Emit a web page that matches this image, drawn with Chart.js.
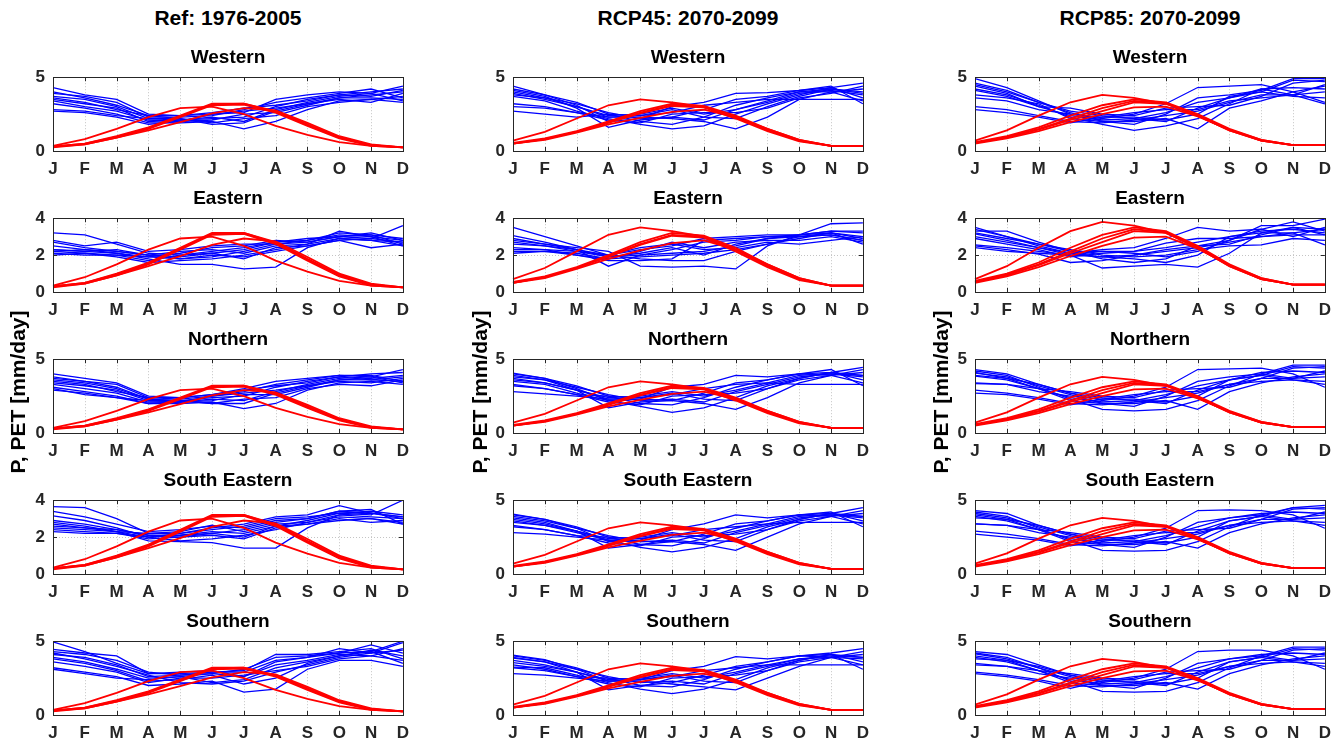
<!DOCTYPE html>
<html>
<head>
<meta charset="utf-8">
<script src="https://cdn.jsdelivr.net/npm/chart.js@4.4.0/dist/chart.umd.min.js"></script>
<style>
body { margin: 0; background: #fff; width: 1344px; height: 748px; position: relative; overflow: hidden; font-family: "Liberation Sans", Arial, sans-serif; }
canvas { position: absolute; }
.t { position: absolute; font-weight: bold; color: #000; text-align: center; white-space: nowrap; }
</style>
</head>
<body>
<script>
const months = ['J', 'F', 'M', 'A', 'M', 'J', 'J', 'A', 'S', 'O', 'N', 'D'];
const columnTitles = ['Ref: 1976-2005', 'RCP45: 2070-2099', 'RCP85: 2070-2099'];
const regions = ['Western', 'Eastern', 'Northern', 'South Eastern', 'Southern'];
const yLabel = 'P, PET [mm/day]';
// y-axis max per column, per region
const yMaxRef = [5, 4, 5, 4, 5];
const yMax45 = [5, 4, 5, 5, 5];
const yMax85 = [5, 4, 5, 5, 5];

// PET (red) curves per period
const petRef = [
  [0.35, 0.8, 1.5, 2.3, 2.9, 3.0, 2.5, 1.7, 1.1, 0.6, 0.35, 0.25],
  [0.3, 0.5, 1.0, 1.6, 2.4, 3.2, 3.2, 2.7, 1.8, 0.95, 0.4, 0.25],
  [0.3, 0.5, 0.95, 1.55, 2.35, 3.15, 3.2, 2.65, 1.75, 0.9, 0.4, 0.25],
  [0.3, 0.45, 0.9, 1.5, 2.3, 3.1, 3.15, 2.6, 1.7, 0.85, 0.35, 0.25],
  [0.25, 0.45, 0.9, 1.4, 1.95, 2.55, 2.9, 2.75, 1.9, 1.0, 0.45, 0.25]
];
const pet45 = [
  [0.7, 1.3, 2.2, 3.1, 3.5, 3.3, 3.0, 2.3, 1.4, 0.7, 0.35, 0.35],
  [0.55, 0.85, 1.35, 2.0, 2.7, 3.2, 3.05, 2.4, 1.5, 0.75, 0.35, 0.35],
  [0.5, 0.8, 1.3, 1.95, 2.6, 3.1, 3.0, 2.3, 1.45, 0.7, 0.35, 0.35],
  [0.5, 0.8, 1.3, 1.9, 2.55, 3.05, 2.95, 2.2, 1.35, 0.65, 0.35, 0.35],
  [0.5, 0.75, 1.25, 1.8, 2.25, 2.65, 2.8, 2.3, 1.5, 0.75, 0.35, 0.35]
];
const pet85 = [
  [0.7, 1.4, 2.4, 3.3, 3.8, 3.6, 3.2, 2.4, 1.4, 0.7, 0.4, 0.4],
  [0.6, 1.0, 1.6, 2.4, 3.1, 3.5, 3.3, 2.5, 1.5, 0.75, 0.4, 0.4],
  [0.55, 0.95, 1.5, 2.2, 2.9, 3.4, 3.25, 2.45, 1.45, 0.7, 0.4, 0.4],
  [0.55, 0.9, 1.45, 2.1, 2.7, 3.3, 3.2, 2.4, 1.4, 0.7, 0.4, 0.4],
  [0.5, 0.85, 1.35, 1.95, 2.5, 2.95, 3.0, 2.35, 1.45, 0.75, 0.4, 0.4]
];

// P (blue) curves, reference period
const pRefWestern = [
  [4.3, 3.8, 3.5, 2.5, 2.4, 2.5, 2.6, 3.5, 3.8, 4.0, 3.9, 4.4],
  [3.9, 3.7, 3.3, 2.3, 2.3, 2.4, 2.8, 3.3, 3.6, 3.9, 4.2, 3.6],
  [3.7, 3.5, 3.0, 2.2, 2.1, 2.2, 2.3, 3.0, 3.5, 3.8, 3.7, 4.1],
  [3.5, 3.2, 2.9, 2.0, 2.1, 2.3, 2.0, 2.8, 3.3, 3.7, 3.9, 3.4],
  [3.4, 3.0, 2.7, 2.1, 2.0, 2.1, 2.5, 2.6, 3.1, 3.6, 3.8, 4.0],
  [3.2, 2.9, 2.5, 1.9, 1.9, 2.0, 1.5, 2.0, 2.8, 3.4, 3.5, 3.3],
  [2.8, 2.7, 2.4, 2.2, 2.2, 1.9, 2.2, 2.4, 3.0, 3.3, 3.5, 3.7],
  [2.7, 2.6, 2.3, 1.8, 2.0, 2.5, 2.7, 2.9, 3.2, 3.5, 3.3, 3.9],
  [3.6, 3.3, 2.8, 2.4, 2.4, 2.6, 2.9, 3.1, 3.4, 3.8, 4.0, 4.2],
  [4.0, 3.6, 3.1, 2.4, 2.2, 1.8, 1.9, 2.7, 3.2, 3.6, 3.6, 3.5]
];
const pRefEastern = [
  [3.2, 3.1, 2.6, 2.1, 2.0, 2.2, 2.4, 2.7, 2.8, 3.1, 3.0, 2.8],
  [2.8, 2.5, 2.7, 2.2, 2.3, 2.5, 2.6, 2.6, 2.7, 3.0, 3.1, 2.6],
  [2.7, 2.4, 2.2, 2.0, 2.2, 2.3, 2.1, 2.5, 2.6, 3.3, 3.0, 2.5],
  [2.3, 2.2, 2.1, 1.8, 1.5, 1.5, 1.25, 1.35, 2.4, 2.9, 2.8, 2.7],
  [2.2, 2.1, 2.0, 1.9, 1.8, 1.9, 2.2, 2.6, 2.8, 3.2, 3.1, 2.9],
  [2.1, 2.0, 2.0, 1.7, 2.0, 2.1, 1.8, 2.4, 2.5, 2.8, 2.4, 2.6],
  [2.3, 2.2, 2.3, 2.0, 1.9, 2.1, 2.3, 2.7, 2.9, 3.0, 2.9, 3.6],
  [2.0, 2.1, 1.9, 1.6, 1.7, 1.8, 2.0, 2.3, 2.6, 2.9, 2.8, 2.5],
  [2.5, 2.3, 2.1, 1.9, 2.1, 2.4, 2.5, 2.8, 2.7, 3.0, 3.2, 2.8],
  [2.2, 2.3, 2.2, 2.0, 1.8, 2.0, 1.9, 2.2, 2.5, 2.8, 2.9, 2.7]
];
const pRefNorthern = [
  [4.0, 3.7, 3.4, 2.5, 2.4, 2.6, 3.0, 3.5, 3.7, 3.9, 3.8, 4.3],
  [3.8, 3.5, 3.3, 2.4, 2.3, 2.5, 2.8, 3.3, 3.6, 3.9, 3.9, 3.5],
  [3.6, 3.4, 3.0, 2.3, 2.2, 2.4, 2.5, 3.1, 3.5, 3.8, 3.6, 3.8],
  [3.4, 3.2, 2.9, 2.2, 2.1, 2.3, 2.2, 2.8, 3.3, 3.7, 3.8, 3.4],
  [3.3, 3.0, 2.7, 2.1, 2.1, 2.2, 2.6, 2.6, 3.1, 3.6, 3.7, 3.9],
  [3.1, 2.8, 2.5, 2.0, 2.0, 2.1, 1.65, 2.0, 2.9, 3.4, 3.5, 3.3],
  [2.9, 2.7, 2.4, 2.2, 2.2, 2.0, 2.3, 2.4, 3.0, 3.3, 3.2, 3.6],
  [3.0, 2.6, 2.4, 2.0, 2.1, 2.5, 2.7, 2.9, 3.2, 3.5, 3.4, 3.7],
  [3.5, 3.3, 2.8, 2.4, 2.4, 2.6, 2.9, 3.2, 3.4, 3.8, 4.0, 4.1],
  [3.7, 3.5, 3.1, 2.3, 2.2, 2.0, 2.0, 2.7, 3.2, 3.6, 3.6, 3.5]
];
const pRefSouthEastern = [
  [3.65, 3.6, 3.0, 2.2, 2.2, 2.5, 2.7, 3.1, 3.2, 3.7, 3.3, 3.1],
  [3.4, 3.1, 2.7, 2.3, 2.4, 2.6, 2.5, 2.9, 3.0, 3.4, 3.5, 2.7],
  [3.15, 2.9, 2.5, 2.0, 2.1, 2.3, 2.2, 2.6, 2.9, 3.3, 3.4, 3.2],
  [2.8, 2.6, 2.3, 1.8, 1.75, 1.7, 1.4, 1.4, 2.5, 3.2, 3.1, 3.0],
  [2.6, 2.5, 2.4, 2.1, 2.0, 2.2, 2.4, 2.8, 3.0, 3.4, 3.3, 3.1],
  [2.4, 2.3, 2.2, 1.9, 2.0, 2.1, 1.9, 2.5, 2.7, 3.0, 2.8, 2.9],
  [2.3, 2.2, 2.2, 2.0, 2.2, 2.4, 2.6, 3.0, 3.1, 3.3, 3.2, 4.0],
  [2.7, 2.5, 2.3, 2.0, 1.8, 1.9, 2.1, 2.4, 2.8, 3.1, 3.0, 2.8],
  [2.5, 2.4, 2.3, 2.2, 2.3, 2.65, 2.3, 2.7, 2.8, 3.2, 3.3, 3.0],
  [2.9, 2.7, 2.4, 2.1, 2.1, 2.2, 2.0, 2.6, 2.7, 2.9, 3.0, 2.7]
];
const pRefSouthern = [
  [4.95, 4.3, 3.5, 2.8, 2.8, 2.9, 3.0, 4.1, 4.1, 4.3, 4.5, 3.8],
  [4.45, 4.2, 4.0, 2.8, 2.9, 3.0, 2.6, 3.6, 3.9, 4.5, 4.2, 4.9],
  [4.1, 3.9, 3.4, 2.6, 2.7, 2.9, 2.9, 3.7, 3.9, 4.2, 4.75, 4.2],
  [3.8, 3.5, 3.0, 2.3, 2.4, 2.7, 2.1, 2.5, 3.5, 4.0, 4.3, 3.5],
  [3.6, 3.3, 2.9, 2.2, 2.5, 2.5, 2.7, 3.0, 3.3, 3.8, 4.0, 4.5],
  [3.2, 2.9, 2.6, 2.0, 2.1, 2.3, 1.55, 1.75, 3.1, 3.7, 3.7, 3.3],
  [3.1, 2.8, 2.5, 2.4, 2.6, 2.2, 2.4, 3.2, 3.6, 4.0, 4.4, 4.0],
  [4.2, 3.8, 3.3, 2.7, 2.2, 2.1, 2.3, 2.9, 3.4, 3.9, 4.2, 4.4],
  [3.9, 3.6, 3.1, 2.5, 2.6, 2.8, 2.6, 3.4, 3.7, 4.1, 4.0, 3.7],
  [4.3, 4.1, 3.7, 2.9, 2.7, 2.8, 3.1, 3.9, 4.0, 4.2, 4.3, 5.0]
];

// P (blue) curves, RCP45
const p45Western = [
  [4.4, 3.8, 3.1, 2.0, 2.2, 3.0, 3.3, 3.9, 3.95, 4.1, 4.3, 4.6],
  [4.1, 3.7, 2.9, 1.6, 2.1, 2.3, 2.8, 3.5, 3.7, 4.1, 4.4, 3.2],
  [3.9, 3.5, 3.0, 2.4, 2.5, 2.9, 2.5, 2.8, 3.4, 4.0, 4.2, 4.0],
  [3.7, 3.4, 2.7, 2.2, 1.8, 1.5, 1.7, 2.5, 3.2, 3.8, 4.3, 3.6],
  [3.0, 2.9, 2.6, 2.3, 2.3, 2.2, 2.0, 1.5, 2.3, 3.5, 4.0, 3.4],
  [2.7, 2.5, 2.3, 2.5, 2.4, 2.6, 3.1, 3.3, 3.5, 3.5, 3.5, 3.5],
  [3.8, 3.6, 3.2, 2.6, 2.2, 2.3, 2.1, 2.8, 3.3, 3.9, 4.1, 3.8],
  [4.2, 3.8, 3.3, 2.5, 2.0, 1.8, 2.3, 3.1, 3.6, 4.0, 4.0, 4.2],
  [3.2, 3.0, 2.6, 2.1, 1.9, 2.5, 2.6, 2.6, 2.9, 3.6, 3.9, 4.4],
  [4.0, 3.6, 3.0, 2.3, 2.4, 2.8, 2.3, 2.2, 3.0, 3.7, 4.2, 3.9]
];
const p45Eastern = [
  [3.5, 3.0, 2.5, 2.0, 2.3, 2.5, 2.9, 3.0, 3.1, 3.1, 3.7, 3.75],
  [3.05, 2.7, 2.3, 1.4, 2.0, 2.3, 2.7, 2.8, 3.0, 3.0, 3.2, 2.6],
  [2.8, 2.6, 2.4, 2.2, 1.4, 1.35, 1.4, 1.25, 2.5, 3.1, 3.3, 3.3],
  [2.6, 2.5, 2.3, 1.9, 2.1, 2.4, 2.0, 2.6, 2.9, 3.0, 3.1, 2.8],
  [2.3, 2.3, 2.2, 2.0, 1.8, 1.7, 1.7, 2.2, 2.6, 2.9, 3.2, 3.0],
  [2.1, 2.2, 2.1, 1.8, 2.2, 2.7, 2.4, 2.7, 2.8, 2.8, 3.0, 2.7],
  [2.7, 2.5, 2.2, 1.9, 2.0, 2.1, 2.2, 2.5, 2.9, 3.1, 3.2, 2.9],
  [2.4, 2.3, 2.0, 1.7, 1.7, 1.8, 2.8, 2.9, 3.0, 3.1, 3.3, 3.2],
  [2.9, 2.6, 2.3, 2.0, 2.4, 2.6, 2.3, 2.4, 2.7, 2.6, 2.8, 3.0],
  [2.2, 2.2, 2.0, 1.8, 1.9, 2.0, 2.1, 2.3, 2.6, 3.0, 3.1, 2.8]
];
const p45Northern = [
  [4.05, 3.7, 3.0, 2.2, 2.3, 3.1, 3.3, 3.9, 3.8, 4.0, 4.1, 4.45],
  [3.8, 3.6, 2.9, 1.7, 2.1, 2.2, 2.7, 3.4, 3.6, 4.0, 4.3, 3.2],
  [3.6, 3.4, 2.9, 2.4, 2.5, 2.8, 2.5, 2.9, 3.4, 3.9, 4.0, 3.9],
  [3.5, 3.3, 2.7, 2.2, 1.8, 1.4, 1.7, 2.4, 3.2, 3.7, 4.1, 3.6],
  [2.8, 2.65, 2.5, 2.3, 2.3, 2.2, 2.0, 1.6, 2.4, 3.4, 3.9, 3.4],
  [3.3, 3.0, 2.6, 2.5, 2.4, 2.6, 3.0, 3.3, 3.4, 3.3, 3.3, 3.3],
  [3.9, 3.6, 3.1, 2.6, 2.2, 2.3, 2.1, 2.8, 3.3, 3.8, 4.0, 3.8],
  [4.0, 3.7, 3.2, 2.5, 2.0, 1.9, 2.4, 3.1, 3.6, 4.0, 3.9, 4.1],
  [3.2, 3.0, 2.6, 2.1, 1.9, 2.5, 2.6, 2.7, 3.0, 3.6, 3.9, 4.3],
  [3.7, 3.4, 2.9, 2.3, 2.4, 2.7, 2.3, 2.2, 3.0, 3.7, 4.1, 3.9]
];
const p45SouthEastern = [
  [4.05, 3.7, 3.1, 2.2, 2.3, 3.0, 3.4, 4.0, 3.8, 4.0, 4.1, 4.5],
  [3.8, 3.5, 2.9, 1.75, 2.0, 2.2, 2.7, 3.4, 3.6, 4.0, 4.2, 3.2],
  [3.6, 3.3, 2.9, 2.4, 2.5, 2.8, 2.5, 2.9, 3.4, 3.9, 4.0, 3.9],
  [3.5, 3.3, 2.8, 2.3, 1.8, 1.5, 1.8, 2.4, 3.2, 3.7, 4.1, 3.6],
  [2.8, 2.7, 2.5, 2.3, 2.2, 2.2, 2.0, 1.6, 2.5, 3.4, 3.9, 3.4],
  [3.3, 3.0, 2.6, 2.5, 2.4, 2.6, 3.0, 3.2, 3.4, 3.5, 3.5, 3.5],
  [3.9, 3.6, 3.1, 2.6, 2.2, 2.3, 2.1, 2.8, 3.3, 3.8, 4.0, 3.8],
  [4.0, 3.7, 3.2, 2.5, 2.0, 1.9, 2.4, 3.1, 3.6, 4.0, 3.9, 4.1],
  [3.2, 3.0, 2.6, 2.1, 1.9, 2.5, 2.6, 2.7, 3.0, 3.6, 3.9, 4.3],
  [3.7, 3.4, 2.9, 2.3, 2.4, 2.7, 2.3, 2.2, 3.0, 3.7, 4.1, 3.9]
];
const p45Southern = [
  [4.05, 3.75, 3.1, 2.3, 2.4, 3.0, 3.3, 3.95, 3.8, 4.0, 4.2, 4.5],
  [3.85, 3.6, 2.9, 1.7, 2.0, 2.2, 2.7, 3.3, 3.6, 4.0, 4.1, 3.1],
  [3.55, 3.3, 2.9, 2.4, 2.5, 2.8, 2.5, 2.9, 3.4, 3.8, 4.0, 3.9],
  [3.25, 3.2, 2.7, 2.2, 1.75, 1.45, 1.75, 2.4, 3.2, 3.7, 4.1, 3.6],
  [2.8, 2.7, 2.5, 2.3, 2.3, 2.1, 1.9, 1.7, 2.5, 3.3, 3.9, 3.4],
  [3.4, 3.1, 2.6, 2.5, 2.4, 2.6, 3.0, 3.2, 3.4, 3.4, 3.4, 3.4],
  [3.9, 3.6, 3.1, 2.6, 2.2, 2.3, 2.1, 2.8, 3.3, 3.8, 3.9, 3.8],
  [4.0, 3.7, 3.2, 2.5, 2.0, 1.9, 2.4, 3.1, 3.6, 4.0, 3.9, 4.1],
  [3.2, 3.0, 2.6, 2.1, 1.9, 2.5, 2.6, 2.7, 3.0, 3.6, 3.9, 4.3],
  [3.7, 3.4, 2.9, 2.3, 2.4, 2.7, 2.3, 2.2, 3.0, 3.7, 4.1, 3.9]
];

// P (blue) curves, RCP85
const p85Western = [
  [4.9, 4.3, 3.4, 2.5, 2.2, 2.5, 3.2, 4.3, 4.4, 4.5, 4.0, 3.3],
  [4.6, 4.1, 3.3, 2.6, 2.0, 1.8, 2.5, 3.6, 3.8, 4.1, 4.9, 4.9],
  [4.4, 3.9, 3.0, 2.4, 2.1, 2.2, 2.0, 2.9, 3.6, 4.0, 4.8, 4.7],
  [4.2, 3.8, 3.1, 2.3, 1.8, 1.4, 1.7, 2.2, 3.2, 4.2, 3.8, 4.5],
  [3.8, 3.6, 3.2, 2.2, 2.0, 2.0, 2.2, 1.5, 2.9, 3.4, 4.0, 4.4],
  [3.0, 2.8, 2.4, 2.0, 1.9, 2.1, 2.4, 2.7, 3.3, 3.8, 3.8, 4.0],
  [2.8, 2.6, 2.3, 1.9, 2.3, 2.6, 2.8, 2.8, 3.4, 3.6, 3.8, 3.2],
  [4.5, 4.0, 3.3, 2.7, 2.4, 2.2, 2.6, 3.3, 3.6, 4.2, 4.3, 4.2],
  [3.6, 3.4, 2.8, 2.5, 2.3, 2.3, 2.1, 2.5, 3.7, 4.0, 3.7, 3.6],
  [4.1, 3.7, 3.0, 2.9, 2.5, 2.4, 2.9, 3.0, 3.1, 3.7, 4.6, 4.8]
];
const p85Eastern = [
  [3.5, 3.0, 2.5, 2.1, 2.3, 2.4, 2.9, 3.5, 3.3, 3.4, 3.8, 3.3],
  [3.3, 3.3, 2.7, 2.2, 1.8, 1.6, 1.8, 2.5, 2.8, 3.6, 3.6, 3.95],
  [3.15, 2.8, 2.4, 2.0, 1.3, 1.4, 1.5, 1.35, 2.1, 3.2, 3.5, 3.4],
  [2.9, 2.6, 2.3, 1.9, 2.1, 2.2, 2.4, 2.7, 3.0, 3.2, 3.2, 2.55],
  [2.55, 2.4, 2.2, 2.0, 1.9, 1.8, 1.6, 2.0, 3.0, 3.3, 3.4, 3.2],
  [2.4, 2.2, 2.1, 2.0, 2.2, 2.2, 2.65, 2.9, 2.9, 3.0, 3.1, 3.1],
  [3.4, 3.0, 2.6, 2.3, 2.0, 1.9, 2.0, 2.3, 2.5, 2.55, 2.9, 2.8],
  [3.0, 2.7, 2.4, 2.1, 1.9, 2.0, 2.2, 2.4, 2.7, 3.0, 3.2, 3.4],
  [2.5, 2.3, 2.05, 1.6, 1.7, 2.0, 2.3, 2.5, 2.6, 3.1, 3.5, 3.1],
  [3.2, 2.9, 2.6, 2.2, 2.2, 2.1, 1.9, 2.2, 2.8, 3.4, 3.0, 3.5]
];
const p85Northern = [
  [4.3, 4.0, 3.3, 2.7, 2.2, 2.5, 3.1, 4.3, 4.35, 4.4, 4.0, 3.1],
  [4.05, 3.8, 3.2, 2.6, 2.0, 1.8, 2.5, 3.5, 3.8, 4.0, 4.6, 4.6],
  [3.85, 3.6, 3.0, 2.4, 2.1, 2.2, 2.0, 2.9, 3.6, 3.9, 4.5, 4.4],
  [4.2, 3.9, 3.1, 2.3, 1.6, 1.5, 1.6, 2.2, 3.2, 4.0, 3.7, 4.2],
  [3.35, 3.3, 3.0, 2.2, 2.0, 2.0, 2.2, 1.6, 2.8, 3.4, 3.8, 4.0],
  [2.9, 2.7, 2.4, 2.0, 1.9, 2.1, 2.4, 2.7, 3.3, 3.7, 3.7, 3.8],
  [2.7, 2.6, 2.3, 1.9, 2.3, 2.6, 2.8, 2.8, 3.3, 3.5, 3.6, 3.3],
  [3.9, 3.7, 3.3, 2.7, 2.4, 2.2, 2.6, 3.2, 3.6, 4.1, 4.2, 4.1],
  [3.4, 3.3, 2.8, 2.5, 2.3, 2.3, 2.1, 2.5, 3.6, 3.9, 3.6, 3.5],
  [4.1, 3.7, 3.0, 2.8, 2.5, 2.4, 2.9, 3.0, 3.1, 3.7, 4.4, 4.5]
];
const p85SouthEastern = [
  [4.3, 4.1, 3.3, 2.7, 2.2, 2.5, 3.1, 4.3, 4.35, 4.3, 4.0, 3.1],
  [4.1, 3.8, 3.2, 2.6, 2.0, 1.8, 2.5, 3.5, 3.8, 4.0, 4.5, 4.65],
  [3.9, 3.6, 3.0, 2.4, 2.1, 2.2, 2.0, 2.9, 3.6, 3.9, 4.5, 4.4],
  [4.2, 3.9, 3.1, 2.3, 1.6, 1.55, 1.6, 2.2, 3.2, 4.0, 3.7, 4.2],
  [3.4, 3.3, 3.0, 2.2, 2.0, 2.0, 2.2, 1.75, 2.8, 3.4, 3.8, 4.0],
  [2.9, 2.7, 2.4, 2.0, 1.9, 2.1, 2.4, 2.7, 3.3, 3.7, 3.7, 3.8],
  [2.7, 2.5, 2.3, 1.9, 2.3, 2.6, 2.8, 2.8, 3.3, 3.5, 3.6, 3.3],
  [3.8, 3.7, 3.3, 2.7, 2.4, 2.2, 2.6, 3.2, 3.8, 4.1, 4.2, 4.1],
  [3.4, 3.3, 2.8, 2.5, 2.3, 2.3, 2.1, 2.5, 3.6, 3.9, 3.6, 3.5],
  [4.0, 3.7, 3.0, 2.8, 2.5, 2.4, 2.9, 3.0, 3.1, 3.7, 4.4, 4.5]
];
const p85Southern = [
  [4.3, 4.1, 3.4, 2.7, 2.2, 2.5, 3.1, 4.3, 4.4, 4.4, 4.0, 3.1],
  [4.15, 3.8, 3.2, 2.6, 2.0, 1.8, 2.5, 3.5, 3.8, 4.0, 4.6, 4.6],
  [3.9, 3.6, 3.0, 2.4, 2.1, 2.2, 2.0, 2.9, 3.6, 3.9, 4.5, 4.4],
  [4.2, 3.9, 3.2, 2.3, 1.6, 1.55, 1.6, 2.2, 3.2, 4.0, 3.7, 4.2],
  [3.4, 3.3, 3.0, 2.2, 2.0, 2.0, 2.2, 1.75, 2.8, 3.4, 3.8, 4.0],
  [2.9, 2.7, 2.4, 2.0, 1.9, 2.1, 2.4, 2.7, 3.3, 3.7, 3.7, 3.8],
  [2.8, 2.6, 2.3, 1.8, 2.3, 2.6, 2.8, 2.8, 3.3, 3.5, 3.6, 3.3],
  [3.8, 3.7, 3.3, 2.7, 2.4, 2.2, 2.6, 3.2, 3.8, 4.1, 4.2, 4.1],
  [3.5, 3.3, 2.8, 2.5, 2.3, 2.3, 2.1, 2.5, 3.6, 3.9, 3.6, 3.5],
  [4.0, 3.7, 3.0, 2.8, 2.5, 2.4, 2.9, 3.0, 3.1, 3.7, 4.4, 4.5]
];

const columns = [
  { pet: petRef, yMax: yMaxRef, p: [pRefWestern, pRefEastern, pRefNorthern, pRefSouthEastern, pRefSouthern] },
  { pet: pet45, yMax: yMax45, p: [p45Western, p45Eastern, p45Northern, p45SouthEastern, p45Southern] },
  { pet: pet85, yMax: yMax85, p: [p85Western, p85Eastern, p85Northern, p85SouthEastern, p85Southern] }
];

// layout (pixels)
const plotLeft = [53, 513, 975];
const plotW = 350;
const plotTop = [71, 212, 353, 494, 635];
const plotH = 80;
const padL = 50, padT = 12, padR = 14, padB = 32;
const axisColor = '#262626';
const tickFont = { family: '"Liberation Sans", Arial, sans-serif', size: 17, weight: 'bold' };

function addText(txt, x, y, size, rotate) {
  const d = document.createElement('div');
  d.className = 't';
  d.textContent = txt;
  d.style.fontSize = size + 'px';
  d.style.lineHeight = '24px';
  d.style.width = '400px';
  d.style.left = (x - 200) + 'px';
  d.style.top = (y - 12) + 'px';
  if (rotate) d.style.transform = 'rotate(-90deg)';
  document.body.appendChild(d);
}

const frame = {
  id: 'frame',
  beforeDatasetsDraw(chart) {
    const { ctx, chartArea: a, scales: { x, y } } = chart;
    ctx.save();
    ctx.strokeStyle = '#c4c4c4';
    ctx.lineWidth = 1;
    ctx.setLineDash([1, 2]);
    ctx.beginPath();
    x.ticks.forEach((t, i) => {
      const px = Math.round(x.getPixelForTick(i)) + 0.5;
      ctx.moveTo(px, a.top); ctx.lineTo(px, a.bottom);
    });
    y.ticks.forEach((t, i) => {
      const py = Math.round(y.getPixelForTick(i)) + 0.5;
      ctx.moveTo(a.left, py); ctx.lineTo(a.right, py);
    });
    ctx.stroke();
    ctx.restore();
  },
  afterDatasetsDraw(chart) {
    const { ctx, chartArea: a, scales: { x, y } } = chart;
    ctx.save();
    ctx.strokeStyle = axisColor;
    ctx.lineWidth = 1;
    ctx.beginPath();
    x.ticks.forEach((t, i) => {
      const px = Math.round(x.getPixelForTick(i)) + 0.5;
      ctx.moveTo(px, a.top); ctx.lineTo(px, a.top + 4);
      ctx.moveTo(px, a.bottom); ctx.lineTo(px, a.bottom - 4);
    });
    y.ticks.forEach((t, i) => {
      const py = Math.round(y.getPixelForTick(i)) + 0.5;
      ctx.moveTo(a.left, py); ctx.lineTo(a.left + 4, py);
      ctx.moveTo(a.right, py); ctx.lineTo(a.right - 4, py);
    });
    ctx.stroke();
    ctx.strokeRect(Math.round(a.left) + 0.5, Math.round(a.top) + 0.5,
      Math.round(a.right - a.left), Math.round(a.bottom - a.top));
    ctx.restore();
  }
};

function makePanel(c, r) {
  const col = columns[c];
  const W = padL + plotW + padR, H = padT + plotH + padB;
  const cv = document.createElement('canvas');
  cv.width = W; cv.height = H;
  cv.style.width = W + 'px'; cv.style.height = H + 'px';
  cv.style.left = (plotLeft[c] - padL) + 'px';
  cv.style.top = (plotTop[r] - padT) + 'px';
  document.body.appendChild(cv);

  const datasets = [];
  col.pet.forEach(v => datasets.push({ data: v, borderColor: '#ff0000', borderWidth: 1.8, order: 0 }));
  col.p[r].forEach(v => datasets.push({ data: v, borderColor: '#0000ff', borderWidth: 1.3, order: 1 }));
  const yMax = col.yMax[r];

  new Chart(cv, {
    type: 'line',
    data: { labels: months, datasets: datasets },
    options: {
      responsive: false,
      animation: false,
      devicePixelRatio: 1,
      layout: { padding: { top: padT, right: padR, left: 0, bottom: 0 } },
      plugins: { legend: { display: false }, tooltip: { enabled: false } },
      elements: { point: { radius: 0 }, line: { tension: 0 } },
      scales: {
        x: {
          grid: { display: false, drawTicks: false },
          border: { display: false },
          ticks: { font: tickFont, color: axisColor, padding: 8, maxRotation: 0, autoSkip: false },
          afterFit: s => { s.height = padB; }
        },
        y: {
          min: 0, max: yMax,
          grid: { display: false, drawTicks: false },
          border: { display: false },
          ticks: { stepSize: yMax === 4 ? 2 : 5, font: tickFont, color: axisColor, padding: 8 },
          afterFit: s => { s.width = padL; }
        }
      }
    },
    plugins: [frame]
  });

  addText(regions[r], plotLeft[c] + plotW / 2, plotTop[r] - 14, 19);
}

for (let c = 0; c < 3; c++) {
  addText(columnTitles[c], plotLeft[c] + plotW / 2, 18, 21);
  for (let r = 0; r < 5; r++) makePanel(c, r);
}
addText(yLabel, 18, 392, 21, true);
addText(yLabel, 480, 392, 21, true);
addText(yLabel, 941, 392, 21, true);
</script>
</body>
</html>
